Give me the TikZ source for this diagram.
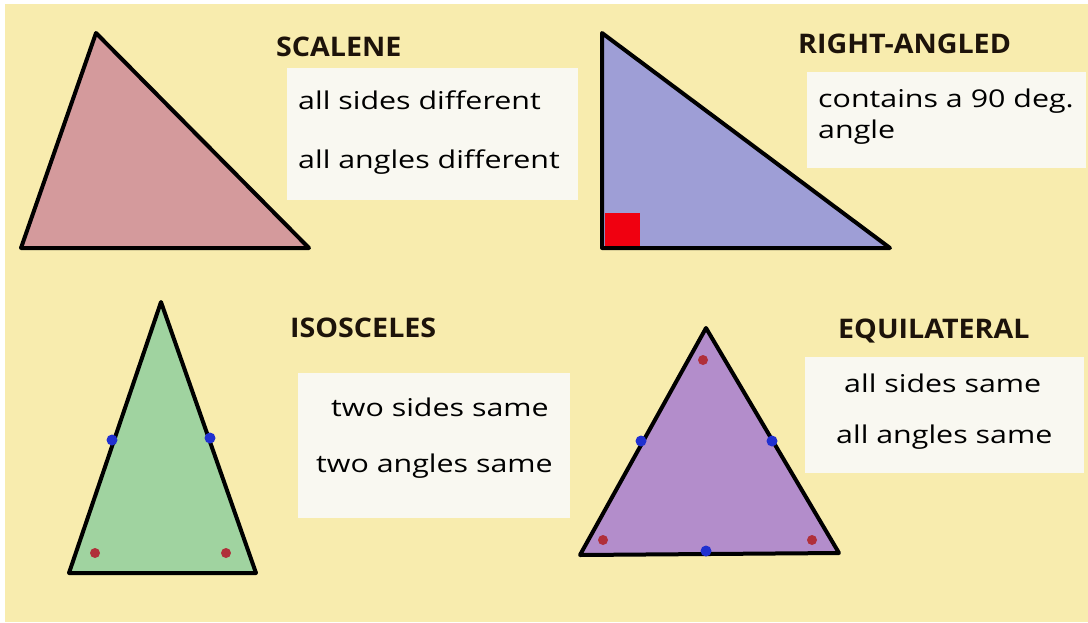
\documentclass[tikz,border=0pt]{standalone}
\usepackage{fontspec}
\setmainfont{Open Sans}
\newfontfamily\bodyfont[FakeStretch=1.24]{Open Sans}
\newfontfamily\headfont[FakeStretch=1.06]{Open Sans}
\definecolor{bgyellow}{HTML}{F8ECAE}
\definecolor{boxwhite}{HTML}{F9F8F1}
\definecolor{pinkfill}{HTML}{D49A9C}
\definecolor{bluefill}{HTML}{9E9ED6}
\definecolor{greenfill}{HTML}{A0D3A0}
\definecolor{purplefill}{HTML}{B38DCB}
\definecolor{dotblue}{HTML}{2030D0}
\definecolor{dotred}{HTML}{B0303A}
\definecolor{squarered}{HTML}{F00010}
\tikzset{
  tri/.style={draw=black, line width=4pt, line join=round},
  infobox/.style={fill=boxwhite, draw=none},
  heading/.style={font=\headfont\fontsize{27}{30}\selectfont\bfseries, text=black!85!brown, anchor=west, inner sep=0pt},
  body/.style={font=\bodyfont\fontsize{24.5}{28}\selectfont, text=black, anchor=west, inner sep=0pt},
  bdot/.style={circle, fill=dotblue, minimum size=11pt, inner sep=0pt},
  rdot/.style={circle, fill=dotred, minimum size=10pt, inner sep=0pt},
}
\begin{document}
\begin{tikzpicture}[x=1pt,y=-1pt]
\useasboundingbox (0,0) rectangle (1088,622);
\fill[white] (0,0) rectangle (1088,622);
\fill[bgyellow] (5,4) rectangle (1088,622);

% ---------- Scalene ----------
\coordinate (sA) at (96,33);
\coordinate (sB) at (21,248);
\coordinate (sC) at (309,248);
\filldraw[tri, fill=pinkfill] (sA) -- (sB) -- (sC) -- cycle;
\node[heading] (scalene) at (276,47) {SCALENE};
\fill[infobox] (287,68) rectangle (578,200);
\node[body] (sc1) at (298,100) {all sides different};
\node[body] (sc2) at (298,162) {all angles different};

% ---------- Right-angled ----------
\coordinate (rA) at (602,33);
\coordinate (rB) at (602,248);
\coordinate (rC) at (890,248);
\filldraw[tri, fill=bluefill] (rA) -- (rB) -- (rC) -- cycle;
\fill[squarered] (605,213) rectangle (640,246);
\node[heading] (right) at (798,44) {RIGHT-ANGLED};
\fill[infobox] (807,72) rectangle (1086,168);
\node[body] (ra1) at (818,101) {contains a 90 deg.};
\node[body] (ra2) at (818,132) {angle};

% ---------- Isosceles ----------
\coordinate (iA) at (161,302);
\coordinate (iB) at (69,573);
\coordinate (iC) at (256,573);
\filldraw[tri, fill=greenfill] (iA) -- (iB) -- (iC) -- cycle;
\node[bdot] (ib1) at (112,440) {};
\node[bdot] (ib2) at (210,438) {};
\node[rdot] (ir1) at (95,553) {};
\node[rdot] (ir2) at (226,553) {};
\node[heading] (isos) at (290,328) {ISOSCELES};
\fill[infobox] (298,373) rectangle (570,518);
\node[body] (is1) at (331,407) {two sides same};
\node[body] (is2) at (316,466) {two angles same};

% ---------- Equilateral ----------
\coordinate (eA) at (706,328);
\coordinate (eB) at (580,555);
\coordinate (eC) at (839,553);
\filldraw[tri, fill=purplefill] (eA) -- (eB) -- (eC) -- cycle;
\node[bdot] (eb1) at (641,441) {};
\node[bdot] (eb2) at (772,441) {};
\node[bdot] (eb3) at (706,551) {};
\node[rdot] (er1) at (703,360) {};
\node[rdot] (er2) at (603,540) {};
\node[rdot] (er3) at (812,540) {};
\node[heading] (equi) at (838,331) {EQUILATERAL};
\fill[infobox] (805,357) rectangle (1084,473);
\node[body] (eq1) at (844,383) {all sides same};
\node[body] (eq2) at (836,437) {all angles same};
\end{tikzpicture}
\end{document}
